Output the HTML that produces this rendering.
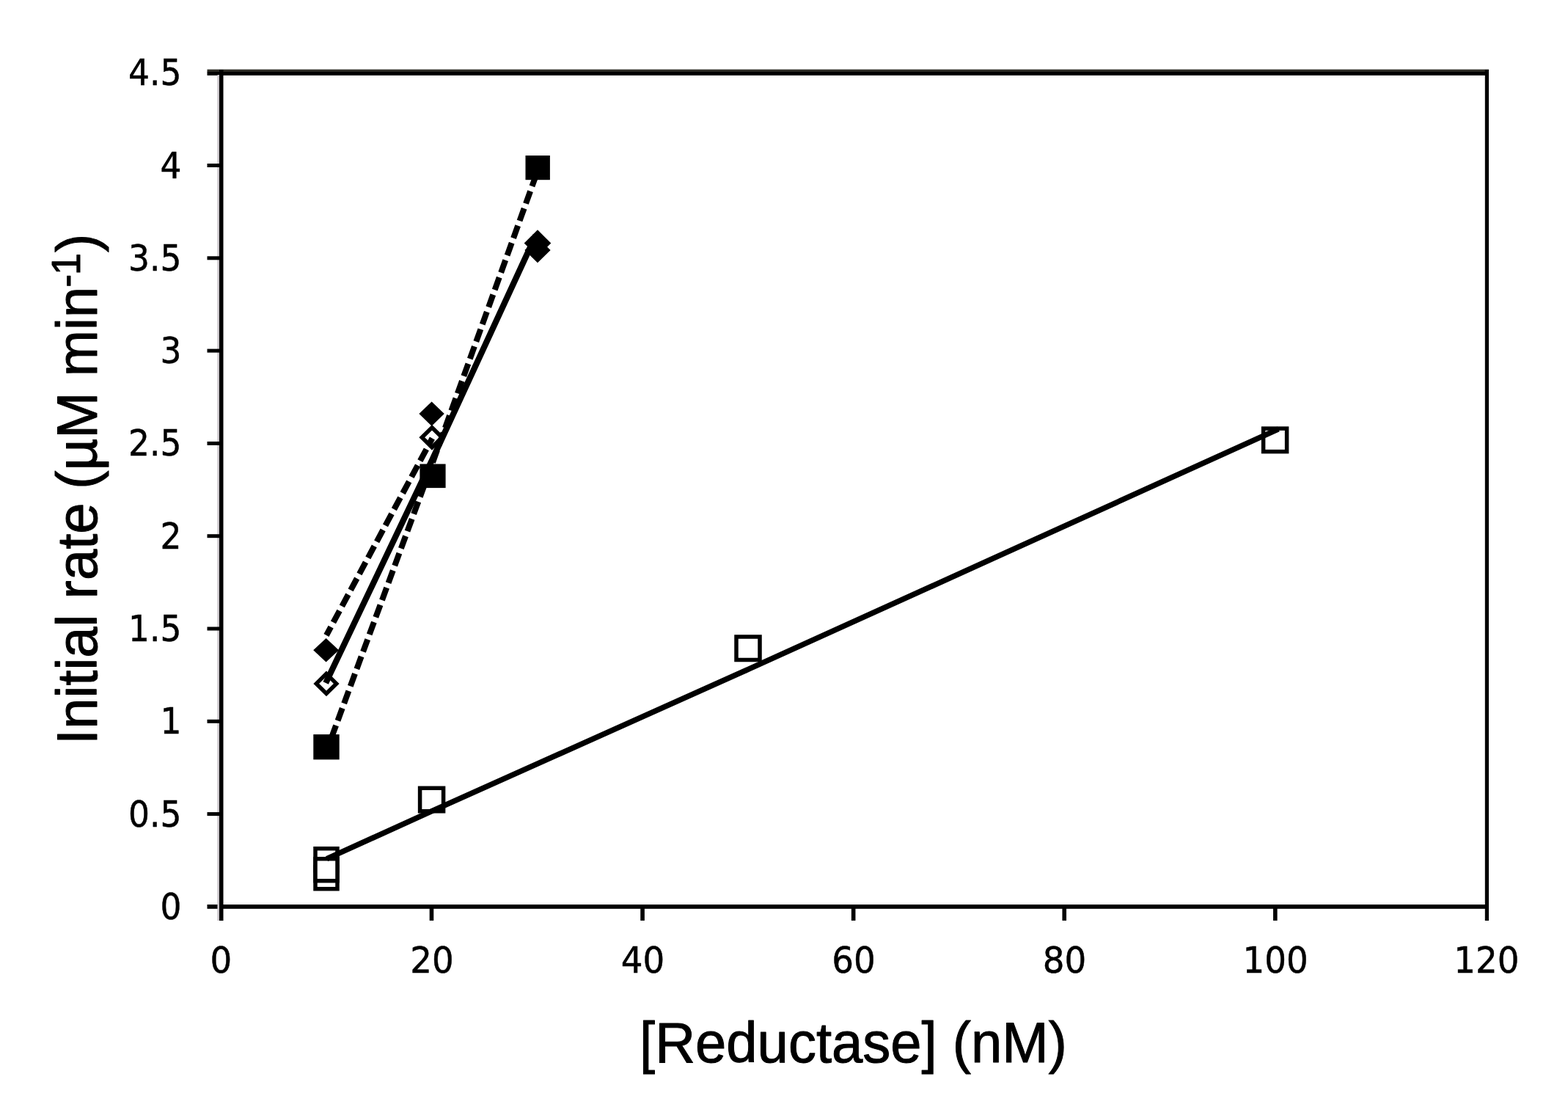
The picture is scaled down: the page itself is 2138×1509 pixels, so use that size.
<!DOCTYPE html>
<html lang="en"><head><meta charset="utf-8"><title>Initial rate vs [Reductase]</title>
<style>
html,body{margin:0;padding:0;background:#fff;}
body{width:2138px;height:1509px;overflow:hidden;}
svg{display:block;}
.tick{font-family:"DejaVu Sans","Liberation Sans",sans-serif;font-size:49px;fill:#000;stroke:#000;stroke-width:0.5px;}
.title{font-family:"Liberation Sans",sans-serif;font-size:76px;fill:#000;stroke:#000;stroke-width:1px;stroke-linejoin:round;}
</style></head><body>
<svg width="2138" height="1509" viewBox="0 0 2138 1509">
<rect x="0" y="0" width="2138" height="1509" fill="#ffffff"/>
<g fill="#000">
<rect x="282.5" y="94.6" width="1747.5" height="3.6" fill="#2f2e27"/>
<rect x="282.5" y="97.8" width="1747.5" height="5"/>
<rect x="282.5" y="1233" width="1747.5" height="5.8"/>
<rect x="296.4" y="102" width="3" height="1153" fill="#c9c4c9"/>
<rect x="299" y="95" width="5.5" height="1160"/>
<rect x="2024.8" y="95" width="5.2" height="1160"/>
<rect x="282.5" y="1107.1" width="18" height="5"/>
<rect x="282.5" y="980.8" width="18" height="5"/>
<rect x="282.5" y="854.5" width="18" height="5"/>
<rect x="282.5" y="728.2" width="18" height="5"/>
<rect x="282.5" y="601.9" width="18" height="5"/>
<rect x="282.5" y="475.6" width="18" height="5"/>
<rect x="282.5" y="349.3" width="18" height="5"/>
<rect x="282.5" y="223.0" width="18" height="5"/>
<rect x="585.68" y="1236" width="5.6" height="18.9"/>
<rect x="873.27" y="1236" width="5.6" height="18.9"/>
<rect x="1160.85" y="1236" width="5.6" height="18.9"/>
<rect x="1448.43" y="1236" width="5.6" height="18.9"/>
<rect x="1736.02" y="1236" width="5.6" height="18.9"/>
</g>
<text class="tick" transform="translate(247.5 1252.9) scale(0.93 1)" text-anchor="end">0</text>
<text class="tick" transform="translate(247.5 1126.6) scale(0.93 1)" text-anchor="end">0.5</text>
<text class="tick" transform="translate(247.5 1000.3) scale(0.93 1)" text-anchor="end">1</text>
<text class="tick" transform="translate(247.5 874.0) scale(0.93 1)" text-anchor="end">1.5</text>
<text class="tick" transform="translate(247.5 747.7) scale(0.93 1)" text-anchor="end">2</text>
<text class="tick" transform="translate(247.5 621.4) scale(0.93 1)" text-anchor="end">2.5</text>
<text class="tick" transform="translate(247.5 495.1) scale(0.93 1)" text-anchor="end">3</text>
<text class="tick" transform="translate(247.5 368.8) scale(0.93 1)" text-anchor="end">3.5</text>
<text class="tick" transform="translate(247.5 242.5) scale(0.93 1)" text-anchor="end">4</text>
<text class="tick" transform="translate(247.5 116.2) scale(0.93 1)" text-anchor="end">4.5</text>
<text class="tick" transform="translate(301.3 1326.0) scale(0.955 1)" text-anchor="middle">0</text>
<text class="tick" transform="translate(588.9 1326.0) scale(0.955 1)" text-anchor="middle">20</text>
<text class="tick" transform="translate(876.5 1326.0) scale(0.955 1)" text-anchor="middle">40</text>
<text class="tick" transform="translate(1164.1 1326.0) scale(0.955 1)" text-anchor="middle">60</text>
<text class="tick" transform="translate(1451.6 1326.0) scale(0.955 1)" text-anchor="middle">80</text>
<text class="tick" transform="translate(1739.2 1326.0) scale(0.955 1)" text-anchor="middle">100</text>
<text class="tick" transform="translate(2026.8 1326.0) scale(0.955 1)" text-anchor="middle">120</text>
<text class="title" transform="translate(1163.5 1448.3) scale(1 1.02)" text-anchor="middle">[Reductase] (nM)</text>
<text class="title" transform="translate(131.8 1014.9) rotate(-90) scale(1 1.02)"><tspan x="0">Initial rate </tspan><tspan x="348.2">(µM min</tspan><tspan x="623.1" dy="-22" font-size="54">-</tspan><tspan x="640" font-size="54">1</tspan><tspan x="670.8" dy="22">)</tspan></text>
<g>
<rect x="430.0" y="1156.7" width="30.0" height="30.0" fill="#fff" stroke="#000" stroke-width="5.5"/>
<rect x="430.0" y="1181.7" width="30.0" height="30.0" fill="#fff" stroke="#000" stroke-width="5.5"/>
<rect x="430.0" y="1170.7" width="30.0" height="30.0" fill="#fff" stroke="#000" stroke-width="5.5"/>
<rect x="572.6" y="1074.3" width="32.0" height="31.5" fill="#fff" stroke="#000" stroke-width="5.5"/>
<rect x="1004.0" y="868.0" width="32.0" height="31.5" fill="#fff" stroke="#000" stroke-width="5.5"/>
<rect x="1722.6" y="584.1" width="32.0" height="31.5" fill="#fff" stroke="#000" stroke-width="5.5"/>
<polyline points="445.6,1170.6 589.4,1105.4 1020.8,912.2 1743.2,584.9" fill="none" stroke="#000" stroke-width="7.5"/>
<polygon points="445.0,918.4 458.7,931.9 445.0,945.4 431.3,931.9" fill="#fff" stroke="#000" stroke-width="5.5" stroke-linejoin="miter"/>
<polygon points="589.0,582.8 602.7,596.3 589.0,609.8 575.3,596.3" fill="#fff" stroke="#000" stroke-width="5.5" stroke-linejoin="miter"/>
<polygon points="733.0,327.5 746.7,341.0 733.0,354.5 719.3,341.0" fill="#000" stroke="#000" stroke-width="5.5" stroke-linejoin="miter"/>
<polyline points="445.0,1024.5 589.4,632.0 733.2,232.5" fill="none" stroke="#000" stroke-width="8.0" stroke-dasharray="18 7" stroke-dashoffset="5"/>
<polyline points="445.0,866.0 589.4,597.5" fill="none" stroke="#000" stroke-width="8.0" stroke-dasharray="18 7" stroke-dashoffset="5"/>
<polyline points="444.2,931.0 589.4,626.5 730.4,321.0" fill="none" stroke="#000" stroke-width="8.2"/>
<rect x="427.3" y="1001.1" width="35.4" height="34.3" fill="#000"/>
<rect x="572.4" y="632.5" width="35.2" height="32.6" fill="#000"/>
<rect x="716.5" y="212.0" width="33.4" height="33.2" fill="#000"/>
<polygon points="444.6,870.1 462.0,886.3 444.6,902.5 427.2,886.3" fill="#000"/>
<polygon points="588.6,547.5 605.8,564.1 588.6,580.7 571.4,564.1" fill="#000"/>
<polygon points="733.0,313.3 751.3,331.5 733.0,349.7 714.7,331.5" fill="#000"/>
</g>
</svg>
</body></html>
